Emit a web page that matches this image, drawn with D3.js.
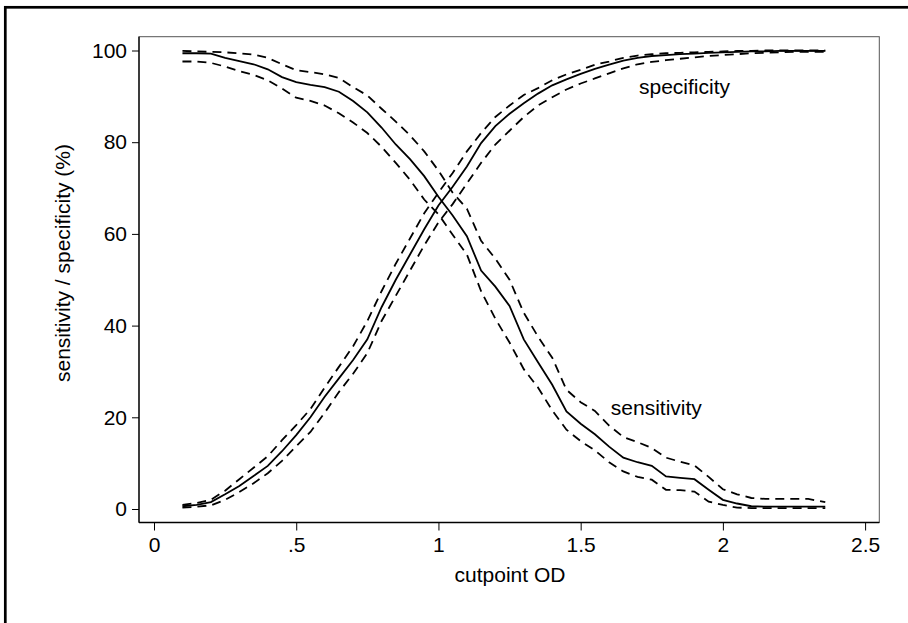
<!DOCTYPE html>
<html>
<head>
<meta charset="utf-8">
<script src="https://cdn.jsdelivr.net/npm/d3@7"></script>
<style>
  body { margin: 0; background: #fff; }
  svg { display: block; }
  text { font-family: "Liberation Sans", Arial, Helvetica, sans-serif; fill: #000; }
</style>
</head>
<body>
<svg id="chart" width="908" height="623"></svg>
<script>
// cutpoint values (OD)
var cutpoints = [0.10,0.15,0.20,0.25,0.30,0.35,0.40,0.45,0.50,0.55,0.60,0.65,0.70,0.75,0.80,0.85,0.90,0.95,
    1.00,1.05,1.10,1.15,1.20,1.25,1.30,1.35,1.40,1.45,1.50,1.55,1.60,1.65,1.70,1.75,1.80,1.85,1.90,1.95,
    2.00,2.05,2.10,2.15,2.20,2.25,2.30,2.36];

// sensitivity (%) with lower / upper bounds
var sens = [99.4,99.4,99.3,98.4,97.7,97.0,95.9,94.2,93.1,92.5,92.0,91.0,89.0,86.5,83.2,79.5,76.3,72.6,
    68.1,64.0,59.5,52.0,48.5,44.3,37.0,32.0,27.1,21.3,18.6,16.3,13.6,11.2,10.2,9.4,7.1,6.8,6.5,4.2,
    2.0,1.2,0.6,0.5,0.5,0.5,0.5,0.5];
var sensLo = [97.6,97.6,97.3,96.5,95.5,94.7,93.5,91.7,89.7,89.0,88.0,86.3,84.3,82.0,79.0,75.5,71.8,67.5,
    64.3,59.8,55.5,47.5,41.5,36.3,30.5,26.5,21.5,17.3,14.8,12.8,10.2,8.2,7.0,6.4,4.2,4.1,3.8,1.6,
    0.9,0.3,0.2,0.2,0.2,0.2,0.2,0.2];
var sensHi = [99.9,99.8,99.7,99.6,99.4,99.1,98.4,97.0,95.7,95.3,94.8,94.0,92.0,90.2,87.3,84.5,81.5,78.0,
    73.8,69.0,65.5,58.5,54.6,50.0,42.8,37.6,33.0,26.0,23.3,21.4,18.2,15.7,14.6,13.3,11.2,10.3,9.5,7.0,
    4.3,3.2,2.4,2.2,2.2,2.2,2.2,1.5];

// specificity (%) with lower / upper bounds
var spec = [0.6,0.9,1.5,3.2,5.0,7.2,9.4,12.6,16.1,20.0,24.5,28.5,32.5,37.0,44.0,50.0,55.5,61.0,
    66.2,70.3,74.7,79.8,83.5,86.2,88.5,90.6,92.4,93.7,94.9,96.0,96.9,97.8,98.4,98.8,99.0,99.2,99.3,99.5,
    99.6,99.7,99.8,99.8,99.9,99.9,99.9,99.9];
var specLo = [0.3,0.5,0.8,2.0,3.7,5.6,7.8,10.5,13.7,16.8,21.0,25.5,29.5,34.0,41.0,46.5,52.0,57.5,
    62.5,66.5,71.0,75.5,79.5,82.5,85.5,88.0,89.8,91.5,92.8,93.9,95.0,96.1,97.0,97.5,97.9,98.2,98.5,98.8,
    99.0,99.2,99.4,99.5,99.6,99.7,99.7,99.7];
var specHi = [0.9,1.3,2.0,4.0,6.5,9.0,11.5,15.0,18.3,21.8,26.5,31.0,35.5,41.0,47.5,53.5,59.0,64.5,
    69.0,73.3,78.0,82.0,85.5,88.0,90.3,91.8,93.5,94.8,95.8,96.9,97.6,98.4,98.9,99.2,99.4,99.5,99.6,99.7,
    99.8,99.9,99.9,100,100,100,100,100];

// axis ticks
var xTicks = [0, 0.5, 1, 1.5, 2, 2.5];
var xTickLabels = ["0", ".5", "1", "1.5", "2", "2.5"];
var yTicks = [0, 20, 40, 60, 80, 100];

// curve labels: [text, x, y]
var curveLabels = [["specificity", 1.705, 90.5], ["sensitivity", 1.606, 20.5]];

var svg = d3.select("#chart");

// outer frame of the graph (runs off the page on the right / bottom)
svg.append("rect")
    .attr("x", 5.3).attr("y", 7.3)
    .attr("width", 1000).attr("height", 800)
    .attr("fill", "none")
    .attr("stroke", "#000")
    .attr("stroke-width", 2.7);

var plotLeft = 139, plotTop = 36.7, plotRight = 879.3, plotBottom = 522.5;

var xscale = d3.scaleLinear().domain([0, 2.5]).range([154, 865.1]);
var yscale = d3.scaleLinear().domain([0, 100]).range([509, 50.5]);

// plot region box
svg.append("rect")
    .attr("x", plotLeft).attr("y", plotTop)
    .attr("width", plotRight - plotLeft).attr("height", plotBottom - plotTop)
    .attr("fill", "none")
    .attr("stroke", "#555")
    .attr("stroke-width", 1);

// axes
var xAxis = d3.axisBottom(xscale)
    .tickValues(xTicks)
    .tickFormat(function(d, i) { return xTickLabels[i]; })
    .tickSize(8)
    .tickSizeOuter(0)
    .tickPadding(7);
var yAxis = d3.axisLeft(yscale)
    .tickValues(yTicks)
    .tickSize(7)
    .tickSizeOuter(0)
    .tickPadding(5);

var gx = svg.append("g")
    .attr("transform", "translate(0," + plotBottom + ")")
    .call(xAxis);
gx.select(".domain").attr("d", "M" + plotLeft + ",0H" + plotRight).attr("stroke", "#000").attr("stroke-width", 1.3);

var gy = svg.append("g")
    .attr("transform", "translate(" + plotLeft + ",0)")
    .call(yAxis);
gy.select(".domain").attr("d", "M0," + plotTop + "V" + plotBottom).attr("stroke", "#000").attr("stroke-width", 1.3);

svg.selectAll(".tick line").attr("stroke", "#000").attr("stroke-width", 1);
svg.selectAll(".tick text")
    .style("font-family", "'Liberation Sans', Arial, Helvetica, sans-serif")
    .style("font-size", "21px")
    .attr("fill", "#000");

// axis titles
svg.append("text")
    .attr("x", 510).attr("y", 581.5)
    .attr("text-anchor", "middle")
    .style("font-size", "21px")
    .text("cutpoint OD");

svg.append("text")
    .attr("transform", "translate(69.5,263) rotate(-90)")
    .attr("text-anchor", "middle")
    .style("font-size", "21px")
    .text("sensitivity / specificity (%)");

// lines
var series = [
    { vals: sens, dash: null },
    { vals: sensLo, dash: "9,6" },
    { vals: sensHi, dash: "9,6" },
    { vals: spec, dash: null },
    { vals: specLo, dash: "9,6" },
    { vals: specHi, dash: "9,6" }
];

var line = d3.line()
    .x(function(d) { return xscale(d[0]); })
    .y(function(d) { return yscale(d[1]); });

svg.append("g").selectAll("path")
    .data(series)
    .enter()
    .append("path")
    .attr("d", function(s) {
        return line(cutpoints.map(function(c, i) { return [c, s.vals[i]]; }));
    })
    .attr("fill", "none")
    .attr("stroke", "#000")
    .attr("stroke-width", 1.8)
    .attr("stroke-dasharray", function(s) { return s.dash; });

// curve labels
svg.append("g").selectAll("text")
    .data(curveLabels)
    .enter()
    .append("text")
    .attr("x", function(d) { return xscale(d[1]); })
    .attr("y", function(d) { return yscale(d[2]); })
    .style("font-size", "21px")
    .text(function(d) { return d[0]; });
</script>
</body>
</html>
